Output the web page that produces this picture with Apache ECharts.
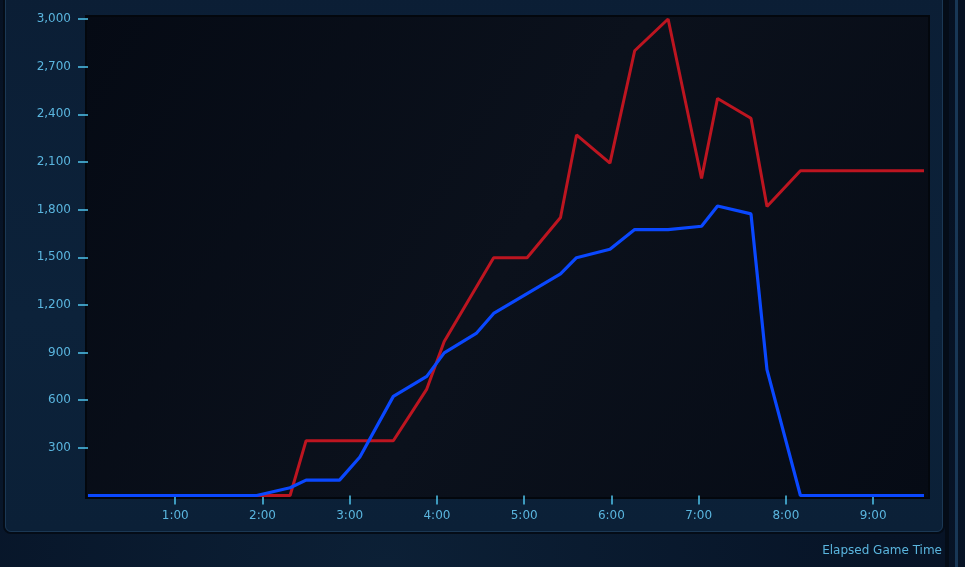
<!DOCTYPE html>
<html>
<head>
<meta charset="utf-8">
<script src="https://cdn.jsdelivr.net/npm/echarts@6/dist/echarts.min.js"></script>
<style>
  html, body { margin: 0; padding: 0; background: #07142a; }
  #wrap { position: relative; width: 965px; height: 567px; overflow: hidden;
    background: radial-gradient(ellipse at 40% 100%, #0c2036 0%, #071427 60%, #061122 100%); }
  #panel { position: absolute; left: 5px; top: -10px; width: 938px; height: 542px;
    border-radius: 6px; box-sizing: border-box;
    background: linear-gradient(180deg, #0b1e35 0%, #0c223a 60%, #0b2037 100%);
    border: 1px solid #1b3854; box-shadow: 0 0 0 2px #040c17; }
  #rail1 { position: absolute; left: 945px; top: 0; width: 4px; height: 567px; background: #040c17; }
  #rail2 { position: absolute; left: 955px; top: 0; width: 3px; height: 567px; background: #183756; }
  #chart { position: absolute; left: 0; top: 0; width: 965px; height: 567px; }
</style>
</head>
<body>
<div id="wrap">
  <div id="panel"></div>
  <div id="rail1"></div>
  <div id="rail2"></div>
  <div id="chart"></div>
</div>
<script>
// elapsed seconds / value pairs
const redTimes = [0, 139, 150, 210, 233, 245, 279, 302, 325, 336, 359, 376, 399, 422, 433, 456, 467, 490, 575];
const redValues = [0, 0, 345, 345, 670, 970, 1497, 1497, 1750, 2270, 2093, 2800, 3000, 1996, 2500, 2375, 1820, 2045, 2045];

const blueTimes = [0, 116, 139, 150, 173, 187, 210, 233, 245, 267, 279, 325, 336, 359, 376, 399, 422, 433, 456, 467, 490, 575];
const blueValues = [0, 0, 49, 97, 97, 242, 624, 750, 898, 1020, 1146, 1396, 1497, 1550, 1674, 1674, 1695, 1823, 1773, 792, 0, 0];

const xTicks = [60, 120, 180, 240, 300, 360, 420, 480, 540];
const yTicks = [300, 600, 900, 1200, 1500, 1800, 2100, 2400, 2700, 3000];

const chart = echarts.init(document.getElementById('chart'));

const toPairs = (ts, vs) => ts.map((t, i) => [t, vs[i]]);
const fmtTime = v => Math.floor(v / 60) + ':' + String(v % 60).padStart(2, '0');

const labelColor = '#5ab5de';
const tickColor = '#4fc3ec';

const option = {
    backgroundColor: 'transparent',
    animation: false,
    grid: {
        left: 88,
        right: 41,
        top: 19,
        bottom: 71.5,
    },
    graphic: [
        {
            type: 'rect',
            z: -10,
            shape: { x: 86, y: 16, width: 843, height: 482 },
            style: {
                fill: new echarts.graphic.LinearGradient(0, 0, 1, 1, [
                    { offset: 0, color: '#050a14' },
                    { offset: 0.5, color: '#0b111c' },
                    { offset: 1, color: '#060b15' },
                ]),
                stroke: '#03070d',
                lineWidth: 2,
            },
        },
        {
            type: 'text',
            right: 23,
            top: 545,
            style: {
                text: 'Elapsed Game Time',
                fill: labelColor,
                font: '12px "DejaVu Sans"',
            },
        },
    ],
    xAxis: {
        type: 'value',
        min: 0,
        max: 575,
        interval: 60,
        splitLine: { show: false },
        axisLine: { show: false },
        axisTick: {
            show: true,
            length: 9,
            customValues: xTicks,
            lineStyle: { color: tickColor, width: 1.5 },
        },
        axisLabel: {
            customValues: xTicks,
            margin: 14,
            color: labelColor,
            fontFamily: 'DejaVu Sans',
            fontSize: 12,
            formatter: fmtTime,
        },
    },
    yAxis: {
        type: 'value',
        min: 0,
        max: 3000,
        interval: 300,
        splitLine: { show: false },
        axisLine: { show: false },
        axisTick: {
            show: true,
            length: 10,
            customValues: yTicks,
            lineStyle: { color: tickColor, width: 1.5 },
        },
        axisLabel: {
            customValues: yTicks,
            margin: 17,
            color: labelColor,
            fontFamily: 'DejaVu Sans',
            fontSize: 12,
            formatter: v => v.toLocaleString('en-US'),
        },
    },
    series: [
        {
            name: 'red',
            type: 'line',
            data: toPairs(redTimes, redValues),
            showSymbol: false,
            clip: false,
            lineStyle: { color: '#bd1520', width: 3 },
        },
        {
            name: 'blue',
            type: 'line',
            data: toPairs(blueTimes, blueValues),
            showSymbol: false,
            clip: false,
            lineStyle: { color: '#0a48ff', width: 3.2 },
        },
    ],
};

chart.setOption(option);
</script>
</body>
</html>
